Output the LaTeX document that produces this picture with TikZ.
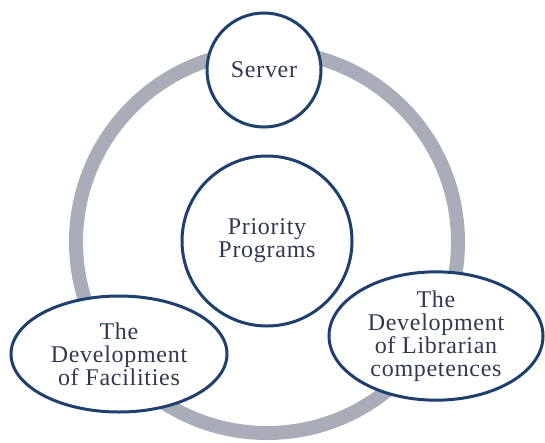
\documentclass[tikz,border=0pt]{standalone}
\usepackage{fontspec}
\setmainfont{Liberation Serif}[LetterSpace=3]
\usetikzlibrary{shapes.geometric}
\definecolor{ringgray}{HTML}{A9ADBA}
\definecolor{navyline}{HTML}{1F3F6E}
\definecolor{slatetext}{HTML}{2F3A50}
\tikzset{
  bubble/.style={circle,draw=navyline,line width=3pt,fill=white,text=slatetext,
    align=center,inner sep=0pt,font=\fontsize{24}{23}\selectfont},
  egg/.style={ellipse,draw=navyline,line width=3pt,fill=white,text=slatetext,
    align=center,inner sep=0pt,font=\fontsize{24}{23}\selectfont}
}
\begin{document}
\begin{tikzpicture}[x=1pt,y=-1pt]
		\useasboundingbox (0,0) rectangle (545,442);
		\draw[ringgray,line width=14pt] (267,242) circle[radius=191pt];
		\node[bubble,minimum size=114pt] (server) at (264,70) {Server};
		\node[bubble,minimum size=170pt] (priority) at (267,241) {Priority\\Programs};
		\node[egg,minimum width=216pt,minimum height=116pt] (facilities) at (119,354) {The\\Development\\of Facilities};
		\node[egg,minimum width=214pt,minimum height=120pt] (librarian) at (436,336) {The\\Development\\of Librarian\\competences};
		%\draw[red] (0,0) rectangle (545,442);
		\end{tikzpicture}
\end{document}
